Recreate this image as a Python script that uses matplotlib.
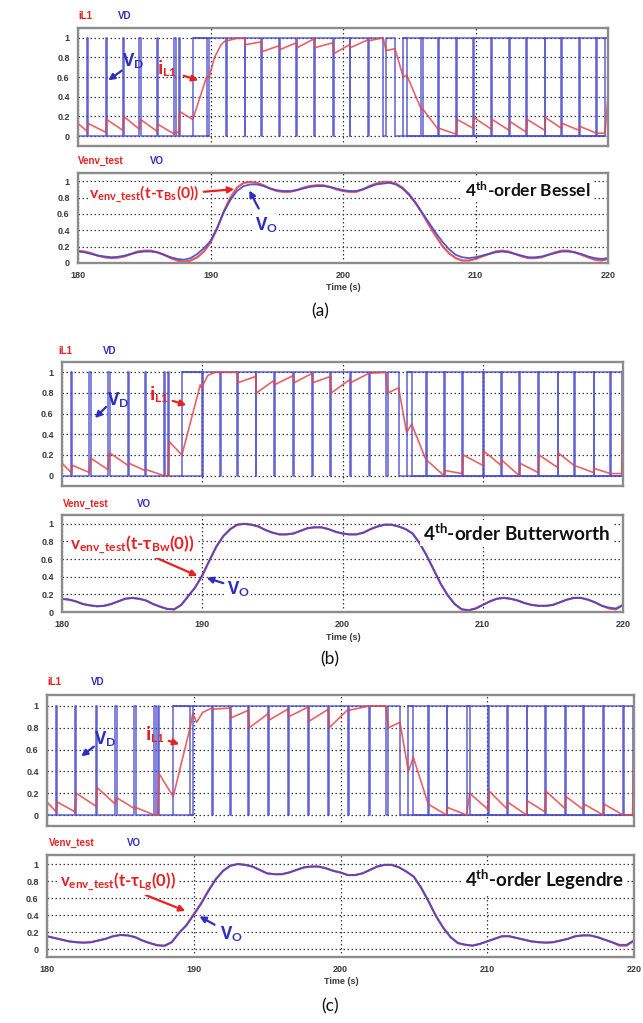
import matplotlib
matplotlib.use('Agg')
import matplotlib.pyplot as plt

plt.rcParams['mathtext.fontset'] = 'custom'
plt.rcParams['mathtext.rm'] = 'Lato'
plt.rcParams['mathtext.bf'] = 'Lato:bold'
plt.rcParams['mathtext.it'] = 'Lato:italic'

# ---------------- data ----------------
T0, T1 = 180, 220
x_ticks = [180, 190, 200, 210, 220]
x_tick_labels = ['180', '190', '200', '210', '220']
y_ticks = [0, 0.2, 0.4, 0.6, 0.8, 1.0]
y_tick_labels = ['0', '0.2', '0.4', '0.6', '0.8', '1']

# VD switching edges (toggle times, starting low)
vd_a_edges = [180.68, 180.76, 182.08, 182.16, 183.38, 183.46, 184.64, 184.72, 185.96, 186.04,
              187.28, 187.36, 187.60, 187.68, 188.66, 189.70, 189.90, 191.20, 191.26, 192.58,
              192.64, 193.84, 193.90, 195.18, 195.24, 196.48, 196.54, 197.82, 197.88, 199.25,
              199.31, 200.50, 200.56, 201.88, 201.94, 203.03, 203.25, 203.92, 204.55, 204.81,
              205.92, 206.00, 207.18, 207.24, 208.56, 208.62, 209.82, 209.88, 211.20, 211.26,
              212.53, 212.59, 213.84, 213.90, 215.22, 215.28, 216.48, 216.54, 217.81, 217.87,
              219.12, 219.18, 219.77]
vd_b_edges = [180.66, 180.74, 181.96, 182.04, 183.26, 183.40, 184.70, 184.78, 185.90, 185.97,
              187.28, 187.36, 187.56, 187.64, 188.55, 189.95, 190.02, 191.30, 191.36, 192.50,
              192.56, 193.80, 193.86, 195.10, 195.16, 196.50, 196.56, 197.83, 197.89, 199.14,
              199.20, 200.52, 200.58, 201.88, 201.94, 203.07, 203.24, 204.00, 204.57, 204.93,
              205.93, 205.99, 207.24, 207.30, 208.55, 208.62, 210.00, 210.06, 211.30, 211.36,
              212.60, 212.66, 213.95, 214.01, 215.33, 215.39, 216.50, 216.56, 217.90, 217.96,
              219.10, 219.16, 219.90]
vd_c_edges = [180.62, 180.70, 181.90, 182.00, 183.35, 183.43, 184.66, 184.74, 185.96, 186.04,
              187.32, 187.40, 187.55, 187.63, 188.60, 189.75, 189.93, 191.22, 191.28, 192.47,
              192.53, 193.72, 193.78, 195.08, 195.14, 196.40, 196.46, 197.80, 197.86, 199.17,
              199.23, 200.53, 200.59, 201.97, 202.03, 203.10, 203.26, 204.05, 204.63, 204.96,
              205.98, 206.04, 207.23, 207.29, 208.60, 208.80, 210.07, 210.13, 211.32, 211.38,
              212.68, 212.74, 213.93, 213.99, 215.30, 215.36, 216.55, 216.61, 217.91, 217.97,
              219.27, 219.33, 219.90]
# intervals where the (decimated) VD trace shows both the 0 and the 1 level
vd_a_bands = [(188.66, 189.90), (204.55, 219.77)]
vd_b_bands = [(188.55, 189.95), (204.57, 219.90)]
vd_c_bands = [(188.60, 189.93), (204.63, 219.90)]

# iL1 breakpoints
il_a_t = [180.0, 180.68, 180.76, 182.08, 182.16, 183.38, 183.46, 184.64, 184.72, 185.96, 186.04,
          187.28, 187.36, 187.60, 187.68, 188.66, 189.70, 189.90, 190.3, 190.8, 191.20, 191.26,
          192.0, 192.58, 192.64, 193.84, 193.90, 195.18, 195.24, 196.48, 196.54, 197.82, 197.88,
          199.25, 199.31, 200.50, 200.56, 201.88, 201.94, 203.03, 203.25, 203.92, 204.55, 204.81,
          205.92, 206.00, 207.18, 207.24, 208.56, 208.62, 209.82, 209.88, 211.20, 211.26, 212.53,
          212.59, 213.84, 213.90, 215.22, 215.28, 216.48, 216.54, 217.81, 217.87, 219.12, 219.77, 220.0]
il_a_v = [0.13, 0.05, 0.13, 0.04, 0.17, 0.06, 0.20, 0.07, 0.17, 0.05, 0.12,
          0.02, 0.05, 0.03, 0.25, 0.17, 0.60, 0.60, 0.80, 0.93, 0.98, 0.97,
          0.995, 0.995, 0.93, 0.96, 0.86, 0.92, 0.88, 0.95, 0.90, 0.99, 0.90,
          0.95, 0.84, 0.93, 0.90, 0.98, 0.97, 1.00, 0.87, 0.89, 0.60, 0.62,
          0.27, 0.28, 0.07, 0.08, 0.02, 0.17, 0.08, 0.19, 0.07, 0.17, 0.06,
          0.15, 0.04, 0.17, 0.06, 0.19, 0.08, 0.13, 0.06, 0.10, 0.03, 0.03, 0.41]
il_b_t = [180.0, 180.66, 180.74, 181.96, 182.04, 183.26, 183.40, 184.70, 184.78, 185.90, 185.97,
          187.28, 187.56, 187.64, 188.55, 189.86, 189.95, 190.4, 190.9, 192.50, 192.56, 193.80,
          193.86, 195.10, 195.16, 196.50, 196.56, 197.83, 197.89, 199.14, 199.20, 200.52, 200.58,
          201.88, 203.07, 203.24, 204.00, 204.57, 204.93, 205.93, 207.24, 207.30, 208.55, 208.62,
          210.00, 210.06, 211.30, 211.36, 212.60, 212.66, 213.95, 214.01, 215.33, 215.39, 216.50,
          217.90, 217.96, 219.10, 219.90, 220.0]
il_b_v = [0.12, 0.03, 0.10, 0.03, 0.17, 0.06, 0.22, 0.10, 0.12, 0.05, 0.06,
          0.00, 0.00, 0.33, 0.20, 0.88, 0.85, 0.97, 1.00, 1.00, 0.90, 0.96,
          0.80, 0.92, 0.88, 0.97, 0.90, 0.99, 0.90, 0.96, 0.80, 0.93, 0.90,
          0.99, 1.00, 0.80, 0.85, 0.42, 0.50, 0.16, 0.00, 0.05, 0.02, 0.20,
          0.10, 0.24, 0.10, 0.15, 0.00, 0.12, 0.03, 0.20, 0.08, 0.22, 0.10,
          0.03, 0.07, 0.02, 0.02, 0.57]
il_c_t = [180.0, 180.62, 180.70, 181.90, 182.00, 183.35, 183.43, 184.66, 184.74, 185.96, 186.04,
          187.32, 187.55, 187.63, 188.60, 189.75, 189.93, 190.2, 190.6, 191.22, 191.28, 192.47,
          192.53, 193.72, 193.78, 195.08, 195.14, 196.40, 196.46, 197.80, 197.86, 199.17, 199.23,
          200.53, 200.59, 201.97, 203.10, 203.26, 204.05, 204.63, 204.96, 205.98, 207.23, 207.29,
          208.60, 208.80, 210.07, 210.13, 211.32, 211.38, 212.68, 212.74, 213.93, 213.99, 215.30,
          215.36, 216.55, 216.61, 217.91, 217.97, 219.27, 219.90, 220.0]
il_c_v = [0.12, 0.03, 0.12, 0.03, 0.20, 0.08, 0.25, 0.10, 0.16, 0.06, 0.07,
          0.00, 0.00, 0.38, 0.17, 0.80, 0.93, 0.85, 0.94, 0.98, 0.97, 0.98,
          0.89, 0.96, 0.80, 0.93, 0.87, 0.97, 0.90, 0.99, 0.86, 0.97, 0.80,
          0.97, 0.96, 1.00, 1.00, 0.80, 0.85, 0.40, 0.53, 0.10, 0.00, 0.07,
          0.00, 0.20, 0.05, 0.22, 0.06, 0.12, 0.00, 0.13, 0.03, 0.22, 0.06,
          0.17, 0.05, 0.10, 0.00, 0.10, 0.00, 0.00, 0.60]

# envelope / output voltage, sampled every 0.5 s from 180 to 220
env_t = [180 + 0.5 * i for i in range(81)]
vo_a = [0.14, 0.13, 0.11, 0.09, 0.08, 0.07, 0.075, 0.09, 0.11, 0.13, 0.14, 0.14, 0.13, 0.10, 0.07,
        0.05, 0.04, 0.06, 0.11, 0.18, 0.27, 0.43, 0.62, 0.77, 0.88, 0.94, 0.96, 0.96, 0.94, 0.91,
        0.89, 0.88, 0.88, 0.89, 0.91, 0.93, 0.94, 0.94, 0.93, 0.91, 0.89, 0.88, 0.88, 0.90, 0.93,
        0.96, 0.97, 0.98, 0.96, 0.91, 0.83, 0.73, 0.61, 0.49, 0.37, 0.26, 0.17, 0.10, 0.07, 0.06,
        0.07, 0.09, 0.11, 0.13, 0.14, 0.13, 0.11, 0.09, 0.07, 0.07, 0.08, 0.10, 0.12, 0.14, 0.14,
        0.13, 0.11, 0.08, 0.06, 0.05, 0.06]
env_a = [0.15, 0.14, 0.12, 0.09, 0.07, 0.06, 0.065, 0.08, 0.11, 0.14, 0.15, 0.15, 0.13, 0.10, 0.06,
         0.03, 0.015, 0.03, 0.07, 0.14, 0.25, 0.42, 0.63, 0.80, 0.92, 0.98, 0.99, 0.98, 0.95, 0.91,
         0.88, 0.87, 0.87, 0.89, 0.92, 0.94, 0.95, 0.95, 0.93, 0.90, 0.88, 0.87, 0.87, 0.90, 0.94,
         0.97, 0.99, 0.99, 0.97, 0.92, 0.84, 0.73, 0.60, 0.46, 0.33, 0.21, 0.12, 0.06, 0.03, 0.03,
         0.05, 0.08, 0.11, 0.14, 0.15, 0.14, 0.11, 0.08, 0.06, 0.06, 0.07, 0.10, 0.13, 0.15, 0.15,
         0.13, 0.10, 0.07, 0.04, 0.03, 0.05]
vo_b = [0.15, 0.14, 0.12, 0.09, 0.075, 0.065, 0.07, 0.09, 0.12, 0.15, 0.16, 0.15, 0.13, 0.09, 0.06,
        0.035, 0.03, 0.08, 0.18, 0.28, 0.42, 0.58, 0.74, 0.86, 0.94, 0.99, 1.00, 0.99, 0.97, 0.93,
        0.90, 0.88, 0.88, 0.89, 0.92, 0.95, 0.96, 0.96, 0.94, 0.91, 0.89, 0.88, 0.88, 0.90, 0.94,
        0.97, 0.99, 0.99, 0.97, 0.94, 0.89, 0.78, 0.64, 0.48, 0.32, 0.19, 0.09, 0.03, 0.02, 0.04,
        0.08, 0.12, 0.15, 0.16, 0.15, 0.13, 0.10, 0.08, 0.07, 0.07, 0.08, 0.11, 0.14, 0.16, 0.16,
        0.14, 0.11, 0.07, 0.05, 0.04, 0.08]
env_b = [0.15, 0.14, 0.12, 0.09, 0.075, 0.065, 0.07, 0.09, 0.12, 0.15, 0.16, 0.15, 0.13, 0.09, 0.06,
         0.035, 0.03, 0.08, 0.18, 0.28, 0.41, 0.58, 0.74, 0.86, 0.94, 0.99, 1.00, 0.99, 0.97, 0.93,
         0.90, 0.88, 0.88, 0.89, 0.92, 0.95, 0.96, 0.96, 0.94, 0.91, 0.89, 0.88, 0.88, 0.90, 0.94,
         0.97, 0.99, 0.99, 0.97, 0.94, 0.89, 0.78, 0.64, 0.48, 0.32, 0.19, 0.09, 0.03, 0.02, 0.04,
         0.08, 0.12, 0.15, 0.16, 0.15, 0.13, 0.10, 0.08, 0.07, 0.07, 0.08, 0.11, 0.14, 0.16, 0.16,
         0.14, 0.11, 0.07, 0.04, 0.03, 0.08]
vo_c = [0.15, 0.13, 0.11, 0.09, 0.08, 0.075, 0.08, 0.10, 0.12, 0.15, 0.165, 0.16, 0.14, 0.10, 0.07,
        0.045, 0.04, 0.08, 0.19, 0.28, 0.40, 0.53, 0.68, 0.82, 0.92, 0.98, 1.00, 0.99, 0.97, 0.93,
        0.89, 0.88, 0.88, 0.90, 0.93, 0.96, 0.97, 0.97, 0.95, 0.92, 0.90, 0.87, 0.87, 0.89, 0.93,
        0.97, 0.99, 0.99, 0.96, 0.91, 0.85, 0.72, 0.56, 0.39, 0.25, 0.14, 0.07, 0.05, 0.04, 0.06,
        0.09, 0.12, 0.15, 0.15, 0.13, 0.11, 0.09, 0.08, 0.075, 0.08, 0.10, 0.12, 0.15, 0.16, 0.16,
        0.14, 0.11, 0.08, 0.05, 0.05, 0.10]
env_c = [0.15, 0.13, 0.11, 0.09, 0.08, 0.075, 0.08, 0.10, 0.12, 0.15, 0.165, 0.16, 0.14, 0.10, 0.07,
         0.045, 0.035, 0.08, 0.19, 0.28, 0.41, 0.54, 0.69, 0.82, 0.92, 0.98, 1.00, 0.99, 0.97, 0.93,
         0.89, 0.88, 0.88, 0.90, 0.93, 0.96, 0.97, 0.97, 0.95, 0.92, 0.90, 0.87, 0.87, 0.89, 0.93,
         0.97, 0.99, 0.99, 0.96, 0.91, 0.85, 0.72, 0.56, 0.39, 0.25, 0.14, 0.07, 0.05, 0.04, 0.06,
         0.09, 0.12, 0.15, 0.15, 0.13, 0.11, 0.09, 0.08, 0.075, 0.08, 0.10, 0.12, 0.15, 0.16, 0.16,
         0.14, 0.11, 0.08, 0.04, 0.04, 0.10]

filter_names = ['Bessel', 'Butterworth', 'Legendre']
tau_subs = ['Bs', 'Bw', 'Lg']
captions = ['(a)', '(b)', '(c)']

# ---------------- layout ----------------
W, H = 643, 1023
fig = plt.figure(figsize=(W / 100, H / 100), dpi=100)

RED = '#e4474c'
BLUE = '#4646cc'
RED_T = '#e52222'
BLUE_T = '#2f2fbf'
TICK_FONT = 'Liberation Sans'
ANN_FONT = ['Lato', 'Open Sans', 'DejaVu Sans']
SHORT_FONT = ['Open Sans', 'DejaVu Sans']


def fx(x):
    return x / W


def fy(y):
    return 1 - y / H


def add_ax(x0, y0, x1, y1):
    return fig.add_axes([fx(x0), fy(y1), (x1 - x0) / W, (y1 - y0) / H])


def style(ax, ylim, show_x):
    ax.set_xlim(T0, T1)
    ax.set_ylim(*ylim)
    ax.set_xticks(x_ticks)
    ax.set_yticks(y_ticks)
    ax.set_yticklabels(y_tick_labels, fontweight='bold', family=TICK_FONT)
    if show_x:
        ax.set_xticklabels(x_tick_labels, fontweight='bold', family=TICK_FONT)
    else:
        ax.set_xticklabels([])
    ax.tick_params(length=0, labelsize=6.5, labelcolor='#3a3a3a', pad=6)
    ax.grid(True, linestyle=(0, (1.2, 2.0)), color='#3c3c3c', lw=0.9)
    ax.set_axisbelow(True)
    for s in ax.spines.values():
        s.set_color('#8c8c8c')
        s.set_linewidth(1.7)


def vd_series(edges):
    t, v = [T0], [0]
    lvl = 0
    for e in edges:
        t += [e, e]
        v += [lvl, 1 - lvl]
        lvl = 1 - lvl
    t.append(T1)
    v.append(lvl)
    return t, v


def ftext(x, y, s, **kw):
    fig.text(fx(x), fy(y), s, **kw)


def arrow(x0, y0, x1, y1, color):
    fig.add_artist(matplotlib.patches.FancyArrowPatch(
        (fx(x0), fy(y0)), (fx(x1), fy(y1)), transform=fig.transFigure,
        arrowstyle='-|>', mutation_scale=9, color=color, lw=1.6))


panels = [
    dict(top=(78, 28, 608, 146), bot=(78, 173, 608, 263), bot_ylim=(0, 1.1),
         vd=vd_a_edges, bands=vd_a_bands, ilt=il_a_t, ilv=il_a_v, vo=vo_a, env=env_a,
         lab_top=(85, 16, 125), lab_bot=(101, 161, 157),
         vd_txt=(133, 61), vd_arr=(124, 69, 106, 82),
         il_txt=(167, 69), il_arr=(181, 75, 201, 81),
         env_txt=(89, 194), env_fs=11.3, env_arr=(201, 192, 237, 189),
         vo_txt=(266, 225), vo_arr=(260, 211, 248, 188),
         name=(465, 190), name_fs=12.5, timey=287, capy=311, capx=320),
    dict(top=(62, 362, 623, 486), bot=(62, 515, 623, 612), bot_ylim=(0, 1.1),
         vd=vd_b_edges, bands=vd_b_bands, ilt=il_b_t, ilv=il_b_v, vo=vo_b, env=env_b,
         lab_top=(65, 351, 110), lab_bot=(86, 504, 144),
         vd_txt=(118, 400), vd_arr=(108, 405, 93, 420),
         il_txt=(159, 395), il_arr=(170, 400, 189, 406),
         env_txt=(70, 545), env_fs=12.3, env_arr=(152, 556, 200, 577),
         vo_txt=(238, 589), vo_arr=(226, 584, 204, 577),
         name=(423, 533), name_fs=13.6, timey=637, capy=659, capx=330),
    dict(top=(47, 695, 634, 826), bot=(47, 855, 634, 957), bot_ylim=(-0.094, 1.106),
         vd=vd_c_edges, bands=vd_c_bands, ilt=il_c_t, ilv=il_c_v, vo=vo_c, env=env_c,
         lab_top=(54, 682, 98), lab_bot=(72, 843, 134),
         vd_txt=(105, 739), vd_arr=(96, 745, 79, 758),
         il_txt=(155, 735), il_arr=(166, 740, 182, 745),
         env_txt=(60, 882), env_fs=12.0, env_arr=(143, 894, 188, 912),
         vo_txt=(231, 934), vo_arr=(217, 926, 197, 915),
         name=(465, 880), name_fs=13.4, timey=982, capy=1006, capx=330),
]

for i, p in enumerate(panels):
    # --- top: VD and iL1
    ax1 = add_ax(*p['top'])
    style(ax1, (-0.1, 1.1), False)
    t, v = vd_series(p['vd'])
    ax1.plot(t, v, color=BLUE, lw=1.1, alpha=0.85)
    for (s, e) in p['bands']:
        ax1.plot([s, e], [0, 0], color=BLUE, lw=1.1, alpha=0.85)
        ax1.plot([s, e], [1, 1], color=BLUE, lw=1.1, alpha=0.85)
    ax1.plot(p['ilt'], p['ilv'], color=RED, lw=1.2, alpha=0.85)

    # --- bottom: Venv_test and VO
    ax2 = add_ax(*p['bot'])
    style(ax2, p['bot_ylim'], True)
    ax2.plot(env_t, p['env'], color=RED, lw=1.6, alpha=0.9)
    ax2.plot(env_t, p['vo'], color=BLUE, lw=1.3, alpha=0.9)

    # small signal-name labels
    lx, ly, lx2 = p['lab_top']
    ftext(lx, ly, 'iL1', color=RED_T, fontsize=7, fontweight='bold', family=TICK_FONT,
          ha='center', va='center')
    ftext(lx2, ly, 'VD', color=BLUE_T, fontsize=7, fontweight='bold', family=TICK_FONT,
          ha='center', va='center')
    lx, ly, lx2 = p['lab_bot']
    ftext(lx, ly, 'Venv_test', color=RED_T, fontsize=7, fontweight='bold', family=TICK_FONT,
          ha='center', va='center')
    ftext(lx2, ly, 'VO', color=BLUE_T, fontsize=7, fontweight='bold', family=TICK_FONT,
          ha='center', va='center')

    # annotations
    ftext(*p['vd_txt'], r'V$_{\mathbf{D}}$', color=BLUE_T, fontsize=12.5, fontweight='bold',
          family=SHORT_FONT, ha='center', va='center')
    arrow(*p['vd_arr'], BLUE_T)
    ftext(*p['il_txt'], r'i$_{\mathbf{L1}}$', color=RED_T, fontsize=12.5, fontweight='bold',
          family=SHORT_FONT, ha='center', va='center')
    arrow(*p['il_arr'], RED_T)
    ftext(*p['env_txt'], r'v$_{\mathbf{env\_test}}$(t-τ$_{\mathbf{%s}}$(0))' % tau_subs[i],
          color=RED_T, fontsize=p['env_fs'], fontweight='bold', family=ANN_FONT,
          ha='left', va='center', bbox=dict(facecolor='white', edgecolor='none', pad=1))
    arrow(*p['env_arr'], RED_T)
    ftext(*p['vo_txt'], r'V$_{\mathbf{O}}$', color=BLUE_T, fontsize=12.5, fontweight='bold',
          family=SHORT_FONT, ha='center', va='center',
          bbox=dict(facecolor='white', edgecolor='none', pad=1))
    arrow(*p['vo_arr'], BLUE_T)
    ftext(*p['name'], r'4$^{\mathbf{th}}$-order %s' % filter_names[i], color='#111111',
          fontsize=p['name_fs'], fontweight='bold', family=ANN_FONT, ha='left', va='center',
          bbox=dict(facecolor='white', edgecolor='none', pad=2))

    bx0, _, bx1, _ = p['bot']
    ftext((bx0 + bx1) / 2 + 0.5, p['timey'], 'Time (s)', fontsize=6.5, fontweight='bold',
          family=TICK_FONT, color='#3a3a3a', ha='center', va='center')
    ftext(p['capx'], p['capy'], captions[i], fontsize=12.5, family=ANN_FONT, color='#111111',
          ha='center', va='center')

fig.savefig('out.png', dpi=100, facecolor='white')
